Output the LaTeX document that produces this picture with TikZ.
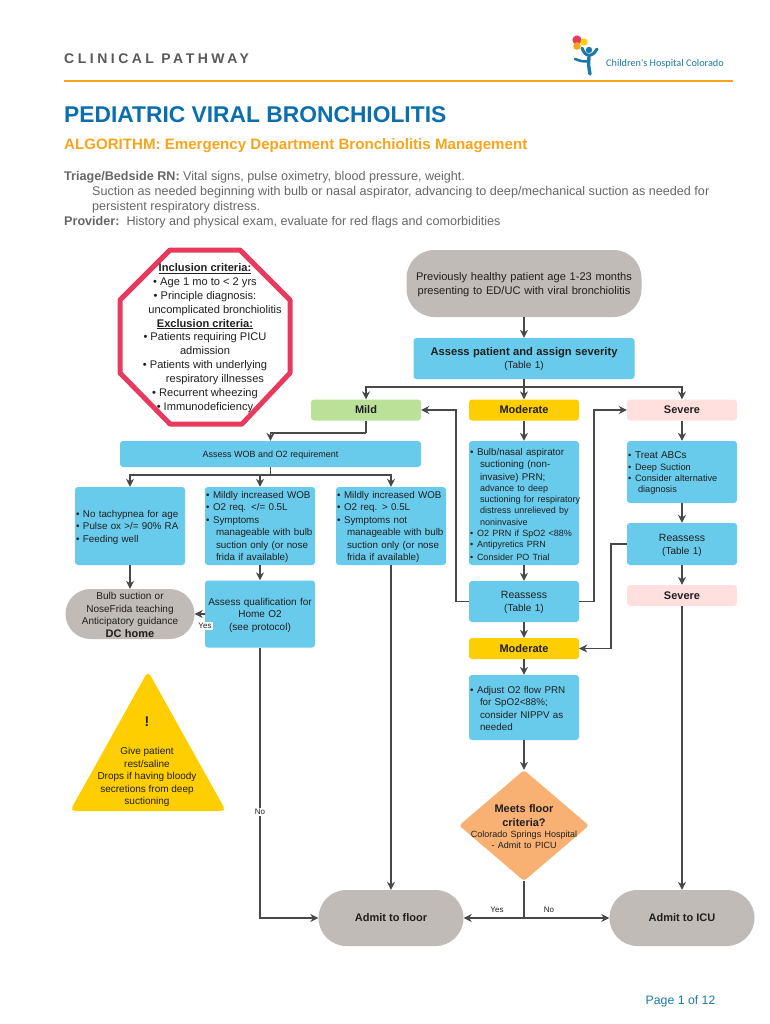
\documentclass[tikz,border=0pt]{standalone}
\usepackage{fontspec}
\setmainfont{Liberation Sans}
\newfontfamily\trackedfont[LetterSpace=25]{Liberation Sans}
\newfontfamily\logofont{Carlito}
\usetikzlibrary{arrows.meta,shapes.geometric}
\definecolor{pathblue}{HTML}{69CBEC}
\definecolor{pathgray}{HTML}{C0BBB6}
\definecolor{pathgreen}{HTML}{BBE198}
\definecolor{pathyellow}{HTML}{FFCE00}
\definecolor{pathpink}{HTML}{FFE0DF}
\definecolor{pathorange}{HTML}{F8B172}
\definecolor{pathred}{HTML}{E8395F}
\definecolor{rulecolor}{HTML}{F8A51B}
\definecolor{titleblue}{HTML}{0B6FAE}
\definecolor{logoblue}{HTML}{1B79A8}
\definecolor{bodygray}{HTML}{666666}
\definecolor{linkgray}{HTML}{484848}
\newcommand{\pbul}{\hspace*{4pt}\makebox[7pt][l]{\textbullet}}
\newcommand{\pcont}{\hspace*{14pt}}
\newcommand{\smalllines}{\fontsize{9}{11.2}\selectfont}

\begin{document}
\begin{tikzpicture}[
    x=1pt,y=-1pt,
    every node/.style={font=\fontsize{10}{12.5}\selectfont,text=black!88,inner sep=0pt},
    textlift/.style={execute at begin node={\rule{0pt}{9.5pt}}},
    plainbox/.style={fill=pathblue,rounded corners=3pt,minimum width=110pt},
    listbox/.style={plainbox,textlift,text width=116pt,inner xsep=-3pt,inner ysep=1pt,align=left,font=\fontsize{9.8}{12.5}\selectfont},
    centerbox/.style={plainbox,textlift,text width=110pt,align=center},
    pill/.style={fill=pathgray,rounded corners=#1},
    sevlabel/.style={rounded corners=3pt,minimum width=110pt,minimum height=21pt,text depth=0pt,font=\fontsize{11}{12}\selectfont\bfseries},
    headtext/.style={anchor=west,text=bodygray,font=\fontsize{12.6}{15}\selectfont},
    linktext/.style={font=\fontsize{8}{9}\selectfont,fill=white,inner sep=1pt},
    wire/.style={linkgray,line width=1.2pt},
    link/.style={wire,-{Stealth[length=8pt,width=8pt]}},
  ]
  \useasboundingbox (0,0) rectangle (770,1024);

  % page header
  \node[anchor=west,text=black!65,font=\fontsize{14}{16}\selectfont\trackedfont\bfseries] (pathway) at (64,58.5) {CLINICAL PATHWAY};
  \draw[rulecolor,line width=2.6pt] (64,81) -- (733,81);
  \node[anchor=west,text=titleblue,font=\fontsize{22.8}{28}\selectfont\bfseries] (title) at (64,114.5) {PEDIATRIC VIRAL BRONCHIOLITIS};
  \node[anchor=west,text=rulecolor,font=\fontsize{15.1}{18}\selectfont\bfseries] (subtitle) at (64,146) {ALGORITHM: Emergency Department Bronchiolitis Management};
  \node[headtext] (triage) at (64,177) {\textbf{Triage/Bedside RN:} Vital signs, pulse oximetry, blood pressure, weight.};
  \node[headtext] (suction) at (92,192) {Suction as needed beginning with bulb or nasal aspirator, advancing to deep/mechanical suction as needed for};
  \node[headtext] (distress) at (92,207) {persistent respiratory distress.};
  \node[headtext] (provider) at (64,222) {\textbf{Provider:}\ \ History and physical exam, evaluate for red flags and comorbidities};

  % logo
  \fill[pathred] (577,40) circle (4.6);
  \fill[pathyellow] (584,42) circle (3.6);
  \fill[rulecolor] (577,46) circle (3.8);
  \fill[logoblue] (589,50) circle (3.2);
  \draw[logoblue,line width=3pt,line cap=round] (582,48) .. controls (585,57) and (592,58) .. (597,49);
  \draw[logoblue,line width=3.4pt,line cap=round] (589,57) .. controls (588,64) and (589,68) .. (590,74);
  \draw[logoblue,line width=2.6pt,line cap=round] (589,61) .. controls (584,62) and (580,61) .. (575,59);
  \node[anchor=west,text=logoblue,font=\fontsize{10.25}{12}\selectfont\logofont] (logotext) at (606,63.5) {Children's Hospital Colorado};

  % inclusion stop sign
  \draw[pathred,line width=5pt,fill=white,line join=round] (170,250) -- (240,250) -- (290,300) -- (290,373) -- (242,424) -- (170,424) -- (120,373) -- (120,300) -- cycle;
  \node[align=center,font=\fontsize{11.1}{13.85}\selectfont] (criteria) at (205,338) {\underline{\textbf{Inclusion criteria:}}\\ \textbullet\ Age 1 mo to < 2 yrs\\ \textbullet\ Principle diagnosis:\\ \hspace*{20pt}uncomplicated bronchiolitis\\ \underline{\textbf{Exclusion criteria:}}\\ \textbullet\ Patients requiring PICU\\ admission\\ \textbullet\ Patients with underlying\\ \hspace*{20pt}respiratory illnesses\\ \textbullet\ Recurrent wheezing\\ \textbullet\ Immunodeficiency};

  % triage column
  \node[pill=28pt,textlift,text width=235pt,align=center,minimum height=67pt,font=\fontsize{11.1}{14}\selectfont] (start) at (524,283.5) {Previously healthy patient age 1-23 months\\ presenting to ED/UC with viral bronchiolitis};
  \node[centerbox,text width=221pt,minimum height=41pt] (assess) at (524,358.5) {{\fontsize{11.2}{14}\selectfont\bfseries Assess patient and assign severity\par}(Table 1)};
  \node[sevlabel,fill=pathgreen] (mild) at (366,410) {Mild};
  \node[sevlabel,fill=pathyellow] (moderate) at (524,410) {Moderate};
  \node[sevlabel,fill=pathpink] (severe) at (682,410) {Severe};

  % mild column
  \node[plainbox,minimum width=301pt,minimum height=26pt,text depth=0pt,font=\fontsize{9}{11}\selectfont] (wob) at (270.5,454) {Assess WOB and O2 requirement};
  \node[listbox,minimum height=78pt] (selfcare) at (130,526) {\pbul No tachypnea for age\\ \pbul Pulse ox >/= 90\% RA\\ \pbul Feeding well};
  \node[listbox,minimum height=78pt] (homecare) at (260,526) {\pbul Mildly increased WOB\\ \pbul O2 req. </= 0.5L\\ \pbul Symptoms\\ \pcont manageable with bulb\\ \pcont suction only (or nose\\ \pcont frida if available)};
  \node[listbox,minimum height=78pt] (wardcare) at (391,526) {\pbul Mildly increased WOB\\ \pbul O2 req. > 0.5L\\ \pbul Symptoms not\\ \pcont manageable with bulb\\ \pcont suction only (or nose\\ \pcont frida if available)};
  \node[pill=25pt,textlift,text width=129pt,align=center,minimum height=50pt] (dchome) at (130,614) {Bulb suction or\\ NoseFrida teaching\\ Anticipatory guidance\\ {\fontsize{11}{12.5}\selectfont\bfseries DC home}};
  \node[centerbox,minimum height=67pt] (homeotwo) at (260,614) {Assess qualification for\\ Home O2\\ (see protocol)};

  % warning triangle
  \fill[pathyellow,rounded corners=5pt] (148,671) -- (226,811) -- (70,811) -- cycle;
  \node[font=\fontsize{14}{16}\selectfont\bfseries] (warnmark) at (147,722) {!};
  \node[align=center] (warning) at (147,777) {Give patient\\ rest/saline\\ Drops if having bloody\\ secretions from deep\\ suctioning};

  % moderate column
  \node[listbox,minimum height=124pt] (modcare) at (524,503) {\pbul Bulb/nasal aspirator\\ \pcont suctioning (non-\\ \pcont invasive) PRN;\par\smalllines \pcont advance to deep\\ \pcont suctioning for respiratory\\ \pcont distress unrelieved by\\ \pcont noninvasive\\ \pbul O2 PRN if SpO2 <88\%\\ \pbul Antipyretics PRN\\ \pbul Consider PO Trial};
  \node[centerbox,minimum height=41pt,font=\fontsize{10.5}{13}\selectfont] (modcheck) at (524,601.5) {Reassess\\ {\fontsize{10}{13}\selectfont (Table 1)}};
  \node[sevlabel,fill=pathyellow] (moderatetwo) at (524,648.5) {Moderate};
  \node[listbox,minimum height=65pt] (adjust) at (524,707.5) {\pbul Adjust O2 flow PRN\\ \pcont for SpO2<88\%;\\ \pcont consider NIPPV as\\ \pcont needed};
  \node[diamond,fill=pathorange,rounded corners=3pt,minimum width=130pt,minimum height=111pt] (floorq) at (524,825.5) {};
  \node[align=center,text width=120pt] (floortext) at (524,826.5) {{\fontsize{11}{13.6}\selectfont\bfseries Meets floor\\ criteria?\par}{\smalllines Colorado Springs Hospital\\ - Admit to PICU\par}};

  % severe column
  \node[listbox,minimum height=62pt,font=\fontsize{9.2}{11.2}\selectfont] (sevcare) at (682,472) {\pbul {\fontsize{10}{11.2}\selectfont Treat ABCs}\\ \pbul Deep Suction\\ \pbul Consider alternative\\ \pcont diagnosis};
  \node[centerbox,minimum height=42pt,font=\fontsize{10.5}{13}\selectfont] (sevcheck) at (682,544) {Reassess\\ {\fontsize{10}{13}\selectfont (Table 1)}};
  \node[sevlabel,fill=pathpink] (severetwo) at (682,595.5) {Severe};

  % outcomes
  \node[pill=28pt,minimum width=145pt,minimum height=56pt,text depth=0pt,font=\fontsize{11}{12}\selectfont\bfseries] (admitfloor) at (391,918) {Admit to floor};
  \node[pill=28pt,minimum width=145pt,minimum height=56pt,text depth=0pt,font=\fontsize{11}{12}\selectfont\bfseries] (admiticu) at (682,918) {Admit to ICU};

  % junctions
  \coordinate (sevsplit) at (524,387);
  \coordinate (mildbend) at (366,433);
  \coordinate (wobsplit) at (270.5,475);
  \coordinate (mildturn) at (456,410);
  \coordinate (severeturn) at (594,410);
  \coordinate (modturn) at (611,648.5);
  \coordinate (floorsplit) at (524,918);

  % straight links
  \foreach \from/\to in {start/assess,assess/moderate,moderate/modcare,modcare/modcheck,modcheck/moderatetwo,moderatetwo/adjust,adjust/floorq,severe/sevcare,sevcare/sevcheck,sevcheck/severetwo,severetwo/admiticu,selfcare/dchome,homecare/homeotwo,homeotwo/dchome,wardcare/admitfloor} {
    \draw[link] (\from) -- (\to);
  }
  \draw[link] (sevsplit) -| (mild);
  \draw[link] (sevsplit) -| (severe);
  \draw[wire] (mild) -- (mildbend);
  \draw[link] (mildbend) -| (wob);
  \draw[wire] (wob) -- (wobsplit);
  \foreach \to in {selfcare,homecare,wardcare} {
    \draw[link] (wobsplit) -| (\to);
  }
  \draw[link] (modcheck.west) -| (mildturn) -- (mild.east);
  \draw[link] (modcheck.east) -| (severeturn) -- (severe.west);
  \draw[link] (sevcheck.west) -| (modturn) -- (moderatetwo.east);
  \draw[link] (homeotwo) |- (admitfloor);
  \draw[wire] (floorq) -- (floorsplit);
  \draw[link] (floorsplit) -- (admitfloor);
  \draw[link] (floorsplit) -- (admiticu);

  % link labels
  \node[linktext] (homeyes) at (205,626) {Yes};
  \node[linktext] (homeno) at (260,812) {No};
  \node[linktext] (flooryes) at (497,910) {Yes};
  \node[linktext] (floorno) at (549,910) {No};

  \node[text=logoblue,font=\fontsize{12.3}{14}\selectfont] (pagenum) at (680.5,1001) {Page 1 of 12};
\end{tikzpicture}
\end{document}
